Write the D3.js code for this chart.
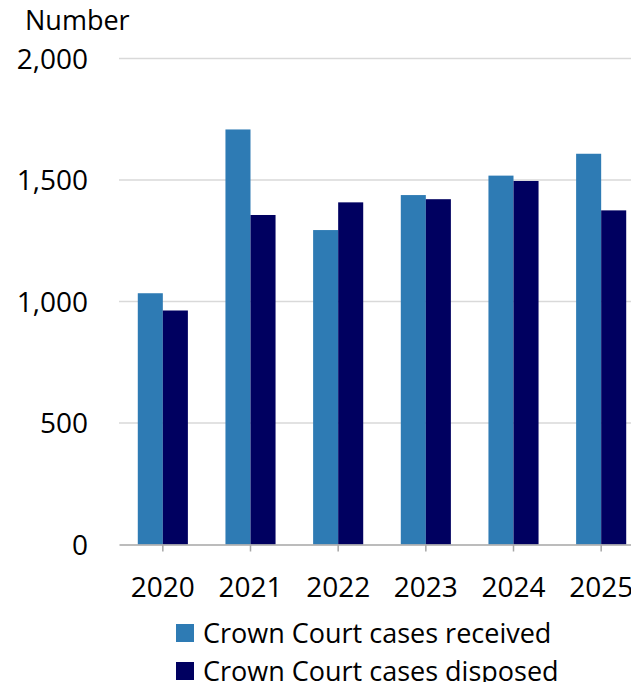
<!DOCTYPE html>
<html>
<head>
<meta charset="utf-8">
<script src="https://cdn.jsdelivr.net/npm/d3@7"></script>
<style>
  body { margin: 0; background: #fff; }
  svg { display: block; font-family: 'Open Sans', sans-serif; }
</style>
</head>
<body>
<div id="chart"></div>
<script>
// chart data
var years = ['2020', '2021', '2022', '2023', '2024', '2025'];
var received = [1034, 1708, 1294, 1438, 1518, 1608];
var disposed = [963, 1356, 1408, 1421, 1496, 1375];
var seriesNames = ['Crown Court cases received', 'Crown Court cases disposed'];
var seriesColors = ['#2E7BB4', '#000060'];
var yTicks = [0, 500, 1000, 1500, 2000];

var svgWidth = 631;
var svgHeight = 682;

var margin = { top: 58.5, right: -14, bottom: 137.5, left: 119 };
var width = svgWidth - margin.left - margin.right;
var height = svgHeight - margin.top - margin.bottom;

var svg = d3.select('#chart')
  .append('svg')
  .attr('width', svgWidth)
  .attr('height', svgHeight);

var chartGroup = svg.append('g')
  .attr('transform', `translate(${margin.left}, ${margin.top})`);

// scales
var x0 = d3.scaleBand()
  .domain(years)
  .range([0, width])
  .padding(0);

var x1 = d3.scaleBand()
  .domain([0, 1])
  .range([0, x0.bandwidth()])
  .paddingInner(0)
  .paddingOuter(0.75);

var y = d3.scaleLinear()
  .domain([0, 2000])
  .range([height, 0]);

// gridlines
chartGroup.selectAll('.grid')
  .data(yTicks.slice(1))
  .enter()
  .append('line')
  .attr('x1', 0)
  .attr('x2', width)
  .attr('y1', d => y(d))
  .attr('y2', d => y(d))
  .attr('stroke', '#D9D9D9')
  .attr('stroke-width', 1.3);

// y axis labels
var leftAxis = d3.axisLeft(y)
  .tickValues(yTicks)
  .tickFormat(d3.format(','))
  .tickSize(0)
  .tickPadding(31);

var yAxis = chartGroup.append('g').call(leftAxis);
yAxis.select('.domain').remove();
yAxis.selectAll('text')
  .attr('font-size', '28px')
  .attr('font-family', "'Open Sans', sans-serif")
  .attr('fill', '#000')
  .attr('dy', '0.35em');

// bars
var rows = years.map((yr, i) => ({ year: yr, values: [received[i], disposed[i]] }));

var yearGroups = chartGroup.selectAll('.year')
  .data(rows)
  .enter()
  .append('g')
  .attr('transform', d => `translate(${x0(d.year)}, 0)`);

yearGroups.selectAll('rect')
  .data(d => d.values.map((v, k) => ({ k: k, v: v })))
  .enter()
  .append('rect')
  .attr('x', d => x1(d.k))
  .attr('width', x1.bandwidth())
  .attr('y', d => y(d.v))
  .attr('height', d => height - y(d.v))
  .attr('fill', d => seriesColors[d.k]);

// x axis
var bottomAxis = d3.axisBottom(x0)
  .tickSize(7)
  .tickSizeOuter(0)
  .tickPadding(26);

var xAxis = chartGroup.append('g')
  .attr('transform', `translate(0, ${height})`)
  .call(bottomAxis);

xAxis.select('.domain')
  .attr('stroke', '#A6A6A6')
  .attr('stroke-width', 1.5);
xAxis.selectAll('.tick line')
  .attr('stroke', '#A6A6A6')
  .attr('stroke-width', 1.5);
xAxis.selectAll('text')
  .attr('font-size', '28px')
  .attr('font-family', "'Open Sans', sans-serif")
  .attr('fill', '#000');

// axis title
svg.append('text')
  .attr('x', 25)
  .attr('y', 30)
  .attr('font-size', '27px')
  .attr('fill', '#000')
  .text('Number');

// legend
var legend = svg.append('g')
  .attr('transform', 'translate(176, 624)');

var legendItems = legend.selectAll('g')
  .data(seriesNames)
  .enter()
  .append('g')
  .attr('transform', (d, i) => `translate(0, ${i * 38})`);

legendItems.append('rect')
  .attr('width', 18)
  .attr('height', 18)
  .attr('fill', (d, i) => seriesColors[i]);

legendItems.append('text')
  .attr('x', 27)
  .attr('y', 19)
  .attr('font-size', '27px')
  .attr('fill', '#000')
  .text(d => d);
</script>
</body>
</html>
